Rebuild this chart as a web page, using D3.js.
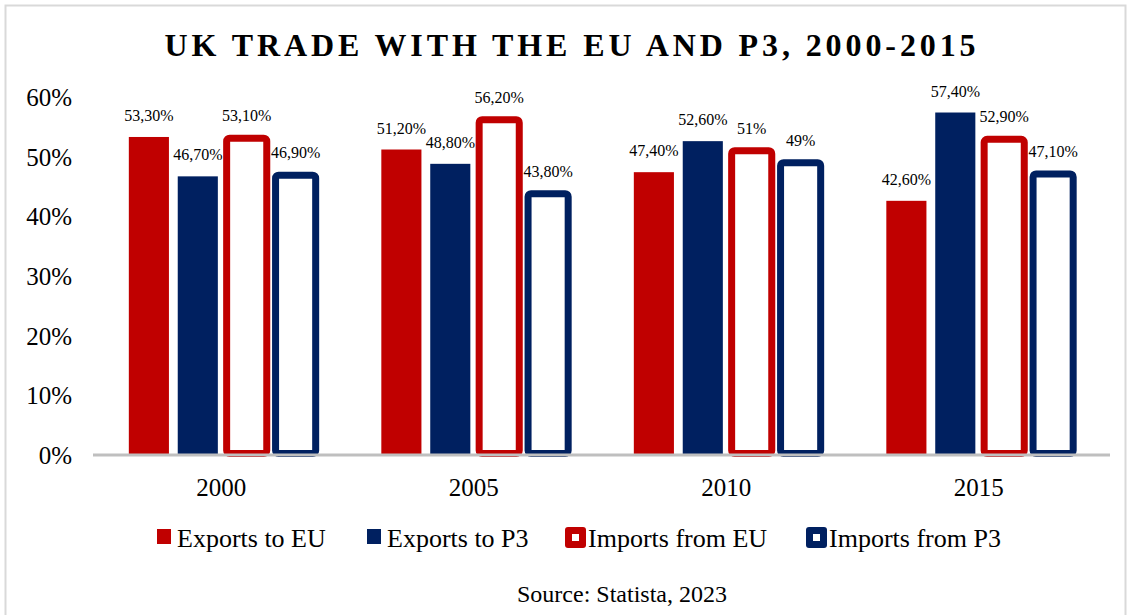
<!DOCTYPE html>
<html>
<head>
<meta charset="utf-8">
<script src="https://cdn.jsdelivr.net/npm/d3@7"></script>
<style>
  body { margin: 0; background: #fff; }
  svg { display: block; font-family: "Liberation Serif", "Times New Roman", serif; }
</style>
</head>
<body>
<svg id="chart" width="1132" height="615"></svg>
<script>
const years = ["2000", "2005", "2010", "2015"];
const seriesNames = ["Exports to EU", "Exports to P3", "Imports from EU", "Imports from P3"];
const exportsEU = [53.3, 51.2, 47.4, 42.6];
const exportsP3 = [46.7, 48.8, 52.6, 57.4];
const importsEU = [53.1, 56.2, 51.0, 52.9];
const importsP3 = [46.9, 43.8, 49.0, 47.1];
const valueLabels = [
  ["53,30%", "51,20%", "47,40%", "42,60%"],
  ["46,70%", "48,80%", "52,60%", "57,40%"],
  ["53,10%", "56,20%", "51%", "52,90%"],
  ["46,90%", "43,80%", "49%", "47,10%"]
];
const yTicks = [0, 10, 20, 30, 40, 50, 60];

const red = "#c00000", navy = "#002060";
const seriesStyle = [
  { color: red, outline: false },
  { color: navy, outline: false },
  { color: red, outline: true },
  { color: navy, outline: true }
];
const allSeries = [exportsEU, exportsP3, importsEU, importsP3];

const svg = d3.select("#chart");

// outer frame
svg.append("rect")
  .attr("x", 5.5).attr("y", 5.5)
  .attr("width", 1120).attr("height", 640)
  .attr("fill", "none").attr("stroke", "#d9d9d9").attr("stroke-width", 2);

// title
svg.append("text")
  .attr("x", 572).attr("y", 56)
  .attr("text-anchor", "middle")
  .style("font-size", "32px").style("font-weight", "bold")
  .style("letter-spacing", "3.9px")
  .text("UK TRADE WITH THE EU AND P3, 2000-2015");

const x0 = d3.scaleBand().domain(years).range([96, 1106])
  .paddingInner(0.26).paddingOuter(0.13);
const x1 = d3.scaleBand().domain(seriesNames).range([0, x0.bandwidth()])
  .paddingInner(0.18).paddingOuter(0);
const y = d3.scaleLinear().domain([0, 60]).range([455, 97]);

// y tick labels
svg.append("g").selectAll("text")
  .data(yTicks).join("text")
  .attr("x", 72).attr("y", d => y(d) + 9)
  .attr("text-anchor", "end")
  .style("font-size", "25px")
  .text(d => d + "%");

// bars
const rows = [];
years.forEach((yr, i) => {
  seriesNames.forEach((s, j) => {
    rows.push({ year: yr, series: s, j: j, value: allSeries[j][i], label: valueLabels[j][i] });
  });
});

const bars = svg.append("g");
rows.forEach(d => {
  const st = seriesStyle[d.j];
  const bx = x0(d.year) + x1(d.series);
  const bw = x1.bandwidth();
  if (st.outline) {
    // stroke sits on the bar edges, like the Excel border
    bars.append("rect")
      .attr("x", bx).attr("y", y(d.value))
      .attr("width", bw).attr("height", y(0) - y(d.value) - 1.5)
      .attr("rx", 3)
      .attr("fill", "#fff").attr("stroke", st.color).attr("stroke-width", 7);
  } else {
    bars.append("rect")
      .attr("x", bx).attr("y", y(d.value))
      .attr("width", bw).attr("height", y(0) - y(d.value))
      .attr("fill", st.color);
  }
  bars.append("text")
    .attr("x", bx + bw / 2).attr("y", y(d.value) - (st.outline ? 17 : 16))
    .attr("text-anchor", "middle")
    .style("font-size", "16px")
    .text(d.label);
});

// baseline
svg.append("line")
  .attr("x1", 93).attr("x2", 1110)
  .attr("y1", 455).attr("y2", 455)
  .attr("stroke", "#bfbfbf").attr("stroke-width", 3);

// year labels
svg.append("g").selectAll("text")
  .data(years).join("text")
  .attr("x", d => x0(d) + x0.bandwidth() / 2 - 1)
  .attr("y", 496)
  .attr("text-anchor", "middle")
  .style("font-size", "25px")
  .text(d => d);

// legend
const legendX = [157, 367, 565, 806];
const legend = svg.append("g");
seriesNames.forEach((s, j) => {
  const st = seriesStyle[j];
  const g = legend.append("g").attr("transform", `translate(${legendX[j]},0)`);
  if (st.outline) {
    g.append("rect").attr("x", 0).attr("y", 527).attr("width", 21).attr("height", 21)
      .attr("rx", 3).attr("fill", st.color);
    g.append("rect").attr("x", 7).attr("y", 534).attr("width", 7).attr("height", 7)
      .attr("fill", "#fff");
    g.append("text").attr("x", 23).attr("y", 547)
      .style("font-size", "26px").text(s);
  } else {
    g.append("rect").attr("x", 0).attr("y", 529).attr("width", 14).attr("height", 15)
      .attr("fill", st.color);
    g.append("text").attr("x", 20).attr("y", 547)
      .style("font-size", "26px").text(s);
  }
});

// source
svg.append("text")
  .attr("x", 622).attr("y", 602)
  .attr("text-anchor", "middle")
  .style("font-size", "24px")
  .text("Source: Statista, 2023");
</script>
</body>
</html>
